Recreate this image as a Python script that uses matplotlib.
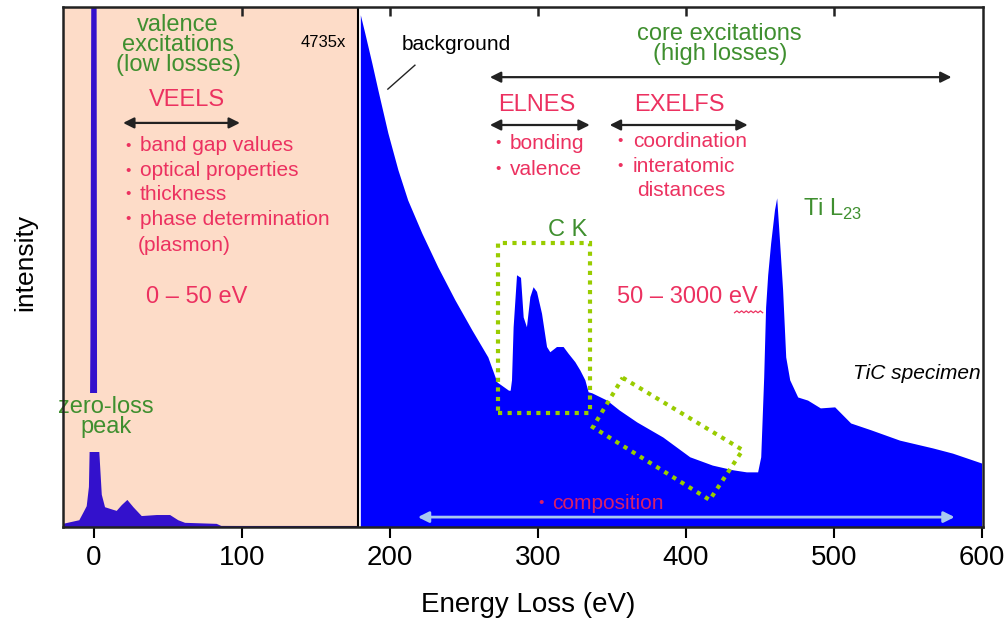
import numpy as np
import matplotlib
matplotlib.use("Agg")
import matplotlib.pyplot as plt
from matplotlib.patches import Polygon, Rectangle

plt.rcParams['font.family'] = ['Liberation Sans', 'DejaVu Sans']
plt.rcParams['mathtext.fontset'] = 'custom'
plt.rcParams['mathtext.rm'] = 'Liberation Sans'

# low-loss region (drawn inside the shaded box), arbitrary intensity units
low_energy = [-21, -10, -7, -5, -3.5, -3, -2.5, -1.5, 0, 1.5, 2.0, 3.4, 5.2, 7.4,
              12.9, 15.3, 18.7, 22.5, 26.6, 32.2, 42.4, 51.4, 56.9, 61.5, 82.9, 86, 178]
low_counts = [0.6, 1.3, 2.9, 4.0, 7.7, 15.0, 35.0, 150, 600, 150, 25.6, 15.0, 6.2, 3.8,
              3.3, 3.1, 4.2, 5.2, 3.8, 2.1, 2.3, 2.3, 1.3, 0.8, 0.6, 0.2, 0.1]

# core-loss region, scaled x4735
core_energy = [180, 183, 187.8, 191.9, 198.6, 205.4, 212, 221.6, 232.4, 243.9, 255.4,
               266.2, 272.3, 280.2, 281.3, 282.2, 283.3, 285.6, 288.3, 290.1, 292.3,
               294.6, 296.8, 299.1, 302.5, 305.9, 308.1, 312.6, 317.1, 320.5, 325,
               328.4, 331.8, 334, 336.5, 346.6, 355, 366.9, 384.5, 402.7, 418, 431.8,
               441, 448.6, 450.7, 452.7, 454, 455.4, 457.4, 460, 461.5, 463.5, 465.5,
               467.6, 470.3, 475.7, 482.4, 491, 500.7, 511.5, 525, 544.6, 567, 580.4,
               600]
core_counts = [98.5, 95.0, 89.2, 84.0, 75.8, 68.7, 62.9, 56.5, 50.0, 43.7, 37.9,
               32.7, 27.9, 26.3, 26.3, 28.3, 38.5, 48.5, 48.0, 40.4, 38.5,
               44.3, 46.2, 45.3, 41.1, 34.7, 33.7, 34.7, 34.7, 33.4, 31.8,
               30.2, 28.3, 26.0, 25.8, 24.4, 22.5, 20.2, 17.3, 13.5, 11.9, 11.0,
               10.6, 10.6, 13.5, 28.8, 42.3, 48.5, 54.6, 61.0, 63.3, 54.6, 45.6,
               32.7, 28.3, 25.0, 24.4, 22.9, 23.1, 20.0, 18.7, 16.7, 15.2, 14.2,
               12.3]

x_ticks = [0, 100, 200, 300, 400, 500, 600]

RED = '#EC3160'
GREEN = '#3F8F2F'
ARROW = '#222222'
PEACH = '#FDDCC8'

fig = plt.figure(figsize=(10.07, 6.21), dpi=100)
ax = fig.add_axes([0.0626, 0.1514, 0.9136, 0.8374])
ax.set_xlim(-21, 601)
ax.set_ylim(0, 100)

# shaded low-loss window
ax.add_patch(Rectangle((-21, 0), 199.5, 100, facecolor=PEACH,
                       edgecolor='black', lw=1.5, zorder=1))
ax.fill_between(low_energy, 0, low_counts, color='#3311CC', lw=0, zorder=3)
ax.fill_between(core_energy, 0, core_counts, color='#0000FF', lw=0, zorder=2)

# axes styling: ticks out at the bottom, in at the top
for s in ax.spines.values():
    s.set_linewidth(1.8)
    s.set_color('#222222')
    s.set_zorder(6)
ax.set_yticks([])
ax.set_xticks(x_ticks)
ax.tick_params(axis='x', direction='out', length=8, width=1.5,
               labelsize=20, pad=5)
ax.vlines(x_ticks[1:-1], 0.982, 1.0, transform=ax.get_xaxis_transform(),
          colors='#222222', lw=1.8, zorder=7)

fig.text(528 / 1007, 1 - 605 / 621, 'Energy Loss (eV)', fontsize=20,
         ha='center', va='center')
fig.text(25 / 1007, 1 - 262 / 621, 'intensity', fontsize=19, rotation=90,
         ha='center', va='center')

# low-loss annotations
ax.text(56.8, 92.7, 'valence\nexcitations\n(low losses)', color=GREEN, fontsize=17,
        ha='center', va='center', linespacing=0.87, zorder=5)
ax.text(154.7, 93.1, '4735x', fontsize=12, ha='center', va='center', zorder=5)
ax.text(62.8, 82.1, 'VEELS', color=RED, fontsize=17, ha='center', va='center', zorder=5)
ax.text(69.6, 44.2, '0 – 50 eV', color=RED, fontsize=17, ha='center', va='center', zorder=5)
# the label sits on a patch of background that hides the zero-loss peak
ax.add_patch(Rectangle((-21, 14.4), 60, 11.4, facecolor=PEACH, edgecolor='none', zorder=4))
ax.text(8.1, 21.1, 'zero-loss\npeak', color=GREEN, fontsize=17, ha='center',
        va='center', linespacing=0.9, zorder=5)


def bullets(x_dot, x_text, ys, items, color=RED, size=15):
    for y, item in zip(ys, items):
        ax.text(x_dot, y, '•', color=color, fontsize=size - 4,
                ha='center', va='center', zorder=5)
        ax.text(x_text, y, item, color=color, fontsize=size,
                ha='left', va='center', zorder=5)


bullets(23, 31.1, [73.3, 68.5, 64.0, 59.2],
        ['band gap values', 'optical properties', 'thickness', 'phase determination'])
ax.text(29.7, 54.2, '(plasmon)', color=RED, fontsize=15, ha='left', va='center', zorder=5)

# core-loss annotations
ax.text(208.1, 92.7, 'background', fontsize=15, ha='left', va='center', zorder=5)
ax.plot([198.6, 216.9], [84.2, 88.8], color='#222222', lw=1, zorder=5)
ax.text(423, 92.9, 'core excitations\n(high losses)', color=GREEN, fontsize=17,
        ha='center', va='center', linespacing=0.9, zorder=5)
ax.text(299.3, 81.2, 'ELNES', color=RED, fontsize=17, ha='center', va='center', zorder=5)
ax.text(396, 81.2, 'EXELFS', color=RED, fontsize=17, ha='center', va='center', zorder=5)
bullets(273, 281.1, [73.8, 68.8], ['bonding', 'valence'])
bullets(355.4, 364.2, [74.2, 69.4], ['coordination', 'interatomic'])
ax.text(366.9, 64.8, 'distances', color=RED, fontsize=15, ha='left', va='center', zorder=5)
ax.text(320.3, 57.1, 'C K', color=GREEN, fontsize=17, ha='center', va='center', zorder=5)
ax.text(401.4, 44.2, '50 – 3000 eV', color=RED, fontsize=17, ha='center', va='center', zorder=5)
zx = np.linspace(433, 452, 13)
ax.plot(zx, 41.2 + 0.35 * (np.arange(13) % 2), color=RED, lw=0.9, zorder=5)
ax.text(479, 61.0, r'Ti L$_{\mathrm{23}}$', color=GREEN, fontsize=17,
        ha='left', va='center', zorder=5)
ax.text(512.8, 29.6, 'TiC specimen', fontsize=15, style='italic',
        ha='left', va='center', zorder=5)
bullets(302, 309.5, [4.6], ['composition'], color='#D8206A')


# range arrows
def span(x0, x1, y, color=ARROW, lw=1.6):
    ax.annotate('', xy=(x1, y), xytext=(x0, y), zorder=5,
                arrowprops=dict(arrowstyle='<|-|>', color=color, lw=lw,
                                mutation_scale=16, shrinkA=0, shrinkB=0))


span(19.6, 98.6, 77.7)
span(267.6, 579.7, 86.5)
span(267.6, 335.1, 77.3)
span(348.6, 441.9, 77.3)
span(218.9, 581.8, 1.9, color='#A8C8F0', lw=2)

# edge windows
dots = dict(fill=False, edgecolor='#99CC00', lw=3, linestyle=(0, (1, 1.3)), zorder=5)
ax.add_patch(Rectangle((273, 21.9), 62.1, 32.7, **dots))
ax.add_patch(Polygon([(357.4, 28.7), (438.5, 14.8), (416.2, 5.2), (337.2, 19.2)],
                     closed=True, **dots))

fig.savefig('out.png', dpi=100)
